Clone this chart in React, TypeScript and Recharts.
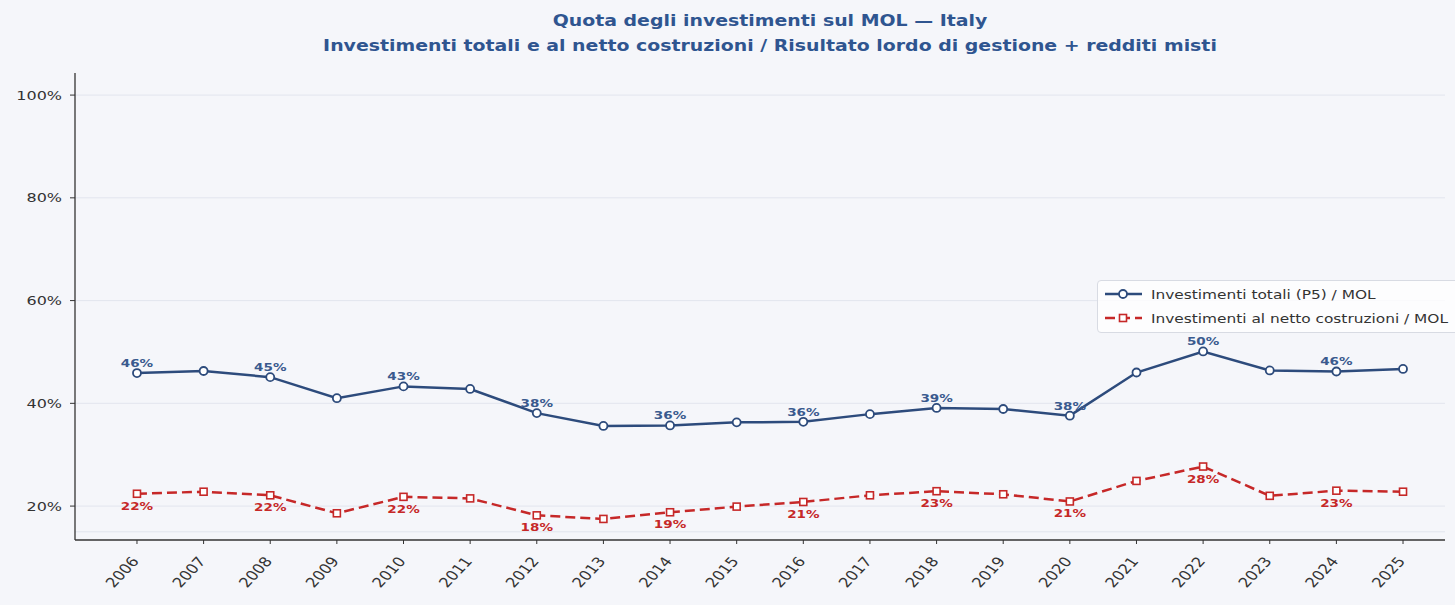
import React from "react";
import { LineChart, Line, XAxis, YAxis, CartesianGrid, LabelList } from "recharts";

const years = [2006, 2007, 2008, 2009, 2010, 2011, 2012, 2013, 2014, 2015, 2016, 2017, 2018, 2019, 2020, 2021, 2022, 2023, 2024, 2025];
const totalShare = [45.9, 46.3, 45.1, 41.0, 43.3, 42.8, 38.1, 35.6, 35.7, 36.3, 36.4, 37.9, 39.1, 38.9, 37.6, 46.0, 50.1, 46.4, 46.2, 46.7];
const netShare = [22.4, 22.8, 22.1, 18.6, 21.8, 21.5, 18.2, 17.5, 18.8, 19.9, 20.8, 22.1, 22.9, 22.3, 20.9, 24.9, 27.7, 22.0, 23.0, 22.8];
const yTicks = [20, 40, 60, 80, 100];
const gridValues = [15, 20, 40, 60, 80, 100];

const seriesNames = ["Investimenti totali (P5) / MOL", "Investimenti al netto costruzioni / MOL"];
const titleLines = ["Quota degli investimenti sul MOL — Italy", "Investimenti totali e al netto costruzioni / Risultato lordo di gestione + redditi misti"];

const BLUE = "#2d4b7c";
const BLUE_LABEL = "#3a5a8e";
const RED = "#c62828";
const BG = "#f5f6fa";
const FONT = "DejaVu Sans, sans-serif";
const SX = 1.23;

const data = years.map((y, i) => ({ year: y, total: totalShare[i], net: netShare[i] }));

const SquareDot = (props: any) => {
  const { cx, cy } = props;
  if (cx == null || cy == null) return null;
  return <rect x={cx - 3.5} y={cy - 3.5} width={7} height={7} fill="#fff" stroke={RED} strokeWidth={1.6} />;
};

const makeLabel = (color: string, dy: number) => (props: any) => {
  const { x, y, value, index } = props;
  if (index % 2 !== 0) return null;
  return (
    <text
      transform={`translate(${x},${y + dy}) scale(${SX},1)`}
      textAnchor="middle"
      fontSize={11}
      fontWeight="bold"
      fill={color}
      fontFamily={FONT}
    >
      {`${Math.round(value)}%`}
    </text>
  );
};

const XTick = (props: any) => {
  const { x, y, payload } = props;
  return (
    <g transform={`translate(${x - 1},${y + 13}) scale(${SX},1)`}>
      <text textAnchor="end" transform="rotate(-52)" fontSize={13.5} fill="#333" fontFamily={FONT} dy={4}>
        {payload.value}
      </text>
    </g>
  );
};

const YTick = (props: any) => {
  const { x, y, payload } = props;
  return (
    <text
      transform={`translate(${x - 6},${y + 4.5}) scale(${SX},1)`}
      textAnchor="end"
      fontSize={13}
      fill="#333"
      fontFamily={FONT}
    >
      {`${payload.value}%`}
    </text>
  );
};

const LegendBox = () => (
  <div
    style={{
      position: "absolute",
      left: 1097,
      top: 280,
      width: 400,
      height: 53,
      border: "1px solid #d8dbe3",
      borderRadius: 4,
      background: "rgba(255,255,255,0.8)",
      boxSizing: "border-box",
    }}
  >
    <svg width={400} height={53} style={{ display: "block" }}>
      <line x1={7} y1={13} x2={44} y2={13} stroke={BLUE} strokeWidth={2.5} />
      <circle cx={25} cy={13} r={4} fill="#fff" stroke={BLUE} strokeWidth={1.8} />
      <text transform={`translate(53,17.5) scale(${SX},1)`} fontSize={12.5} fill="#333" fontFamily={FONT}>
        {seriesNames[0]}
      </text>
      <line x1={7} y1={37} x2={44} y2={37} stroke={RED} strokeWidth={2.5} strokeDasharray="10 5" />
      <rect x={21.5} y={33.5} width={7} height={7} fill="#fff" stroke={RED} strokeWidth={1.6} />
      <text transform={`translate(53,41.5) scale(${SX},1)`} fontSize={12.5} fill="#333" fontFamily={FONT}>
        {seriesNames[1]}
      </text>
    </svg>
  </div>
);

export default function App() {
  return (
    <div style={{ position: "fixed", left: 0, top: 0, width: 1455, height: 605, overflow: "hidden", background: BG }}>
      <div
        style={{
          position: "absolute",
          left: 0,
          top: 9,
          width: 1540,
          textAlign: "center",
          color: "#2f5590",
          fontFamily: FONT,
          fontWeight: "bold",
          fontSize: 15,
          lineHeight: "25px",
          transform: `scaleX(1.26)`,
          transformOrigin: "770px 0",
        }}
      >
        <div>{titleLines[0]}</div>
        <div>{titleLines[1]}</div>
      </div>
      <LineChart width={1455} height={605} data={data} margin={{ top: 73, right: 10, left: 0, bottom: 0 }}>
        <CartesianGrid vertical={false} stroke="#e2e5ee" horizontalValues={gridValues} />
        <XAxis
          dataKey="year"
          type="number"
          domain={[2005.07, 2025.63]}
          allowDataOverflow
          ticks={years}
          interval={0}
          height={65}
          tick={<XTick />}
          tickSize={4}
          axisLine={{ stroke: "#333", strokeWidth: 1.3 }}
          tickLine={{ stroke: "#333" }}
        />
        <YAxis
          type="number"
          domain={[13.4, 104.3]}
          allowDataOverflow
          ticks={yTicks}
          width={75}
          tick={<YTick />}
          tickSize={5}
          axisLine={{ stroke: "#333", strokeWidth: 1.3 }}
          tickLine={{ stroke: "#333" }}
        />
        <Line
          type="linear"
          dataKey="total"
          name={seriesNames[0]}
          stroke={BLUE}
          strokeWidth={2.5}
          dot={{ r: 4, fill: "#fff", stroke: BLUE, strokeWidth: 1.8 }}
          isAnimationActive={false}
        >
          <LabelList dataKey="total" content={makeLabel(BLUE_LABEL, -6)} />
        </Line>
        <Line
          type="linear"
          dataKey="net"
          name={seriesNames[1]}
          stroke={RED}
          strokeWidth={2.5}
          strokeDasharray="10 5"
          dot={<SquareDot />}
          isAnimationActive={false}
        >
          <LabelList dataKey="net" content={makeLabel(RED, 16)} />
        </Line>
      </LineChart>
      <LegendBox />
    </div>
  );
}
